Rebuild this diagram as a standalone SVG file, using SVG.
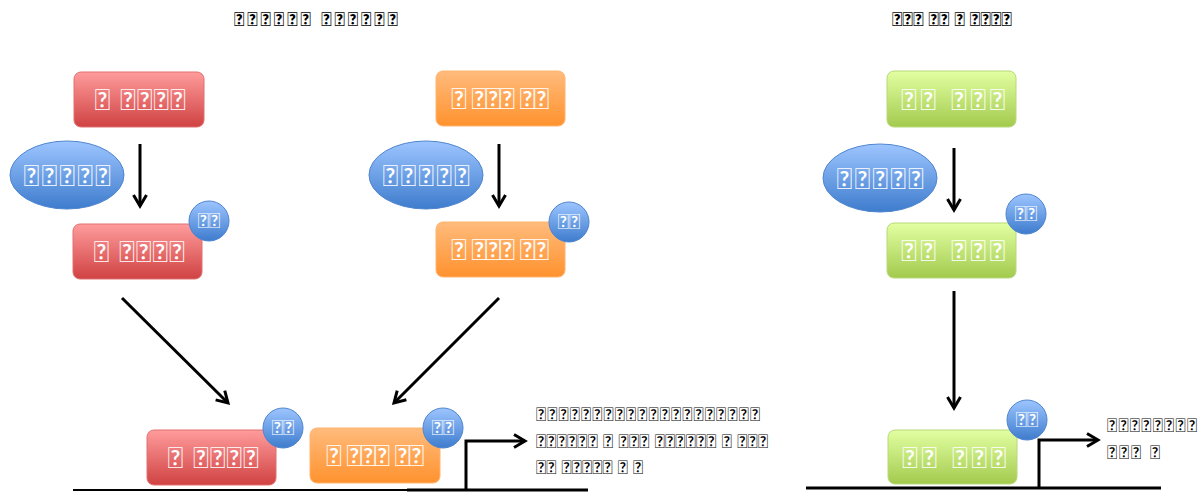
<svg xmlns="http://www.w3.org/2000/svg" width="1203" height="495" viewBox="0 0 1203 495">
<defs>
<linearGradient id="gRed" x1="0" y1="0" x2="0" y2="1"><stop offset="0" stop-color="#ff9c9c"/><stop offset="1" stop-color="#d04242"/></linearGradient>
<linearGradient id="gOrange" x1="0" y1="0" x2="0" y2="1"><stop offset="0" stop-color="#ffbb7c"/><stop offset="1" stop-color="#ff922e"/></linearGradient>
<linearGradient id="gGreen" x1="0" y1="0" x2="0" y2="1"><stop offset="0" stop-color="#e2ffa2"/><stop offset="1" stop-color="#a3ca4e"/></linearGradient>
<linearGradient id="gBlue" x1="0" y1="0" x2="0" y2="1"><stop offset="0" stop-color="#9dc5ff"/><stop offset="1" stop-color="#3e7ccd"/></linearGradient>
<marker id="arr" viewBox="0 0 16 16" refX="13" refY="8" markerWidth="16" markerHeight="16" markerUnits="userSpaceOnUse" orient="auto">
<polyline points="2,1.5 13,8 2,14.5" fill="none" stroke="#000" stroke-width="3"/>
</marker>
<style>
.red{fill:url(#gRed);stroke:#e07070;stroke-width:1}
.orange{fill:url(#gOrange);stroke:#ffb46e;stroke-width:1}
.green{fill:url(#gGreen);stroke:#b8d878;stroke-width:1}
.blue{fill:url(#gBlue);stroke:#4f86cf;stroke-width:1}
.lbl{font-family:Lato,sans-serif;font-size:29px;fill:#fff;text-anchor:middle}
.small{font-family:Lato,sans-serif;font-size:21px;fill:#fff;text-anchor:middle}
.title{font-family:Lato,sans-serif;font-size:19px;font-weight:bold;fill:#000}
.note{font-family:Lato,sans-serif;font-size:19px;fill:#000}
.conn{stroke:#000;stroke-width:3;fill:none}
</style>
</defs>
<rect width="1203" height="495" fill="#fff"/>
<g id="titles">
<text class="title" x="234" y="26" textLength="164" lengthAdjust="spacing">&#xE000;&#xE000;&#xE000;&#xE000;&#xE000;&#xE000;  &#xE000;&#xE000;&#xE000;&#xE000;&#xE000;&#xE000;</text>
<text class="title" x="892" y="26" textLength="120" lengthAdjust="spacing">&#xE000;&#xE000;&#xE000; &#xE000;&#xE000; &#xE000; &#xE000;&#xE000;&#xE000;&#xE000;</text>
</g>
<g id="connectors">
<line class="conn" x1="140" y1="144" x2="140" y2="206" marker-end="url(#arr)"/>
<line class="conn" x1="499" y1="144" x2="499" y2="206" marker-end="url(#arr)"/>
<line class="conn" x1="954" y1="148" x2="954" y2="210" marker-end="url(#arr)"/>
<line class="conn" x1="954" y1="291" x2="954" y2="408" marker-end="url(#arr)"/>
<line class="conn" x1="122" y1="298" x2="228" y2="403" marker-end="url(#arr)"/>
<line class="conn" x1="499" y1="298" x2="394" y2="403" marker-end="url(#arr)"/>
<line x1="73" y1="490" x2="407" y2="490" stroke="#000" stroke-width="2"/>
<line x1="407" y1="490" x2="588" y2="490" stroke="#000" stroke-width="3"/>
<polyline class="conn" points="466,490 466,441 525,441" marker-end="url(#arr)"/>
<line x1="806" y1="488" x2="1161" y2="488" stroke="#000" stroke-width="3"/>
<polyline class="conn" points="1039,488 1039,440 1098,440" marker-end="url(#arr)"/>
</g>
<g id="red-top"><rect class="red" x="74" y="72" width="130" height="55" rx="7"/><text class="lbl" x="140" y="110" textLength="91" lengthAdjust="spacing">&#xE000;  &#xE000;&#xE000;&#xE000;&#xE000;</text></g>
<g id="orange-top"><rect class="orange" x="436" y="71" width="129" height="55" rx="7"/><text class="lbl" x="500" y="109" textLength="98" lengthAdjust="spacing">&#xE000; &#xE000;&#xE000;&#xE000; &#xE000;&#xE000;</text></g>
<g id="green-top"><rect class="green" x="887" y="71" width="129" height="56" rx="7"/><text class="lbl" x="953" y="110" textLength="104" lengthAdjust="spacing">&#xE000;&#xE000; &#xE000;&#xE000;&#xE000;</text></g>
<g id="kinase-1"><ellipse class="blue" cx="67" cy="175" rx="57" ry="34"/><text class="lbl" x="67" y="186" textLength="87" lengthAdjust="spacing">&#xE000;&#xE000;&#xE000;&#xE000;&#xE000;</text></g>
<g id="kinase-2"><ellipse class="blue" cx="426" cy="175" rx="57" ry="34"/><text class="lbl" x="426" y="186" textLength="87" lengthAdjust="spacing">&#xE000;&#xE000;&#xE000;&#xE000;&#xE000;</text></g>
<g id="kinase-3"><ellipse class="blue" cx="880" cy="178" rx="57" ry="34"/><text class="lbl" x="880" y="189" textLength="87" lengthAdjust="spacing">&#xE000;&#xE000;&#xE000;&#xE000;&#xE000;</text></g>
<g id="red-mid"><rect class="red" x="73" y="224" width="129" height="55" rx="7"/><text class="lbl" x="139" y="262" textLength="91" lengthAdjust="spacing">&#xE000;  &#xE000;&#xE000;&#xE000;&#xE000;</text><circle class="blue" cx="209" cy="221" r="20"/><text class="small" x="209" y="228">&#xE000;&#xE000;</text></g>
<g id="orange-mid"><rect class="orange" x="436" y="222" width="129" height="55" rx="7"/><text class="lbl" x="500" y="260" textLength="98" lengthAdjust="spacing">&#xE000; &#xE000;&#xE000;&#xE000; &#xE000;&#xE000;</text><circle class="blue" cx="569" cy="222" r="20"/><text class="small" x="569" y="229">&#xE000;&#xE000;</text></g>
<g id="green-mid"><rect class="green" x="887" y="223" width="129" height="55" rx="7"/><text class="lbl" x="953" y="261" textLength="104" lengthAdjust="spacing">&#xE000;&#xE000; &#xE000;&#xE000;&#xE000;</text><circle class="blue" cx="1026" cy="214" r="20"/><text class="small" x="1026" y="221">&#xE000;&#xE000;</text></g>
<g id="red-bottom"><rect class="red" x="147" y="430" width="129" height="55" rx="7"/><text class="lbl" x="213" y="468" textLength="91" lengthAdjust="spacing">&#xE000;  &#xE000;&#xE000;&#xE000;&#xE000;</text><circle class="blue" cx="283" cy="428" r="20"/><text class="small" x="283" y="435">&#xE000;&#xE000;</text></g>
<g id="orange-bottom"><rect class="orange" x="310" y="428" width="130" height="55" rx="7"/><text class="lbl" x="375" y="466" textLength="98" lengthAdjust="spacing">&#xE000; &#xE000;&#xE000;&#xE000; &#xE000;&#xE000;</text><circle class="blue" cx="443" cy="428" r="20"/><text class="small" x="443" y="435">&#xE000;&#xE000;</text></g>
<g id="green-bottom"><rect class="green" x="888" y="430" width="129" height="54" rx="7"/><text class="lbl" x="954" y="468" textLength="104" lengthAdjust="spacing">&#xE000;&#xE000; &#xE000;&#xE000;&#xE000;</text><circle class="blue" cx="1027" cy="420" r="20"/><text class="small" x="1027" y="427">&#xE000;&#xE000;</text></g>
<g id="notes">
<text class="note" x="536" y="421" textLength="224" lengthAdjust="spacing">&#xE000;&#xE000;&#xE000;&#xE000;&#xE000;&#xE000;&#xE000;&#xE000;&#xE000;&#xE000;&#xE000;&#xE000;&#xE000;&#xE000;&#xE000;&#xE000;&#xE000;&#xE000;&#xE000;&#xE000;</text>
<text class="note" x="536" y="448" textLength="232" lengthAdjust="spacing">&#xE000;&#xE000;&#xE000;&#xE000;&#xE000;&#xE000; &#xE000; &#xE000;&#xE000;&#xE000; &#xE000;&#xE000;&#xE000;&#xE000;&#xE000;&#xE000; &#xE000; &#xE000;&#xE000;&#xE000;</text>
<text class="note" x="536" y="474" textLength="107" lengthAdjust="spacing">&#xE000;&#xE000; &#xE000;&#xE000;&#xE000;&#xE000;&#xE000; &#xE000; &#xE000;</text>
<text class="note" x="1107" y="432" textLength="90" lengthAdjust="spacing">&#xE000;&#xE000;&#xE000;&#xE000;&#xE000;&#xE000;&#xE000;&#xE000;</text>
<text class="note" x="1107" y="459" textLength="53" lengthAdjust="spacing">&#xE000;&#xE000;&#xE000; &#xE000;</text>
</g>
</svg>
